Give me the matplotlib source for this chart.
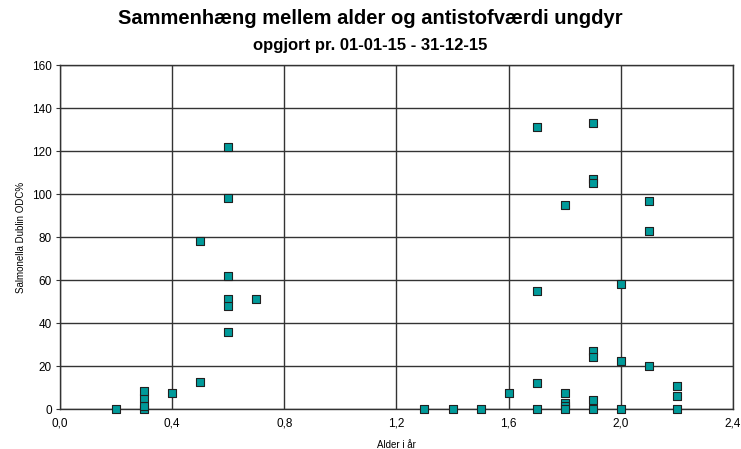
import matplotlib.pyplot as plt

plt.rcParams['font.family'] = ['Liberation Sans', 'DejaVu Sans']

# alder (år) og antistofværdi (ODC%)
alder = [0.2,
         0.3, 0.3, 0.3, 0.3,
         0.4,
         0.5, 0.5,
         0.6, 0.6, 0.6, 0.6, 0.6, 0.6,
         0.7,
         1.3, 1.4, 1.5,
         1.6,
         1.7, 1.7, 1.7, 1.7,
         1.8, 1.8, 1.8, 1.8, 1.8,
         1.9, 1.9, 1.9, 1.9, 1.9, 1.9, 1.9,
         2.0, 2.0, 2.0,
         2.1, 2.1, 2.1,
         2.2, 2.2, 2.2]
odc = [0,
       0, 1.5, 5, 8.5,
       7.5,
       78, 12.5,
       122, 98, 62, 51, 48, 36,
       51,
       0, 0, 0,
       7.5,
       131, 55, 12, 0,
       95, 7.5, 3, 1.5, 0,
       133, 107, 105, 27, 24, 4, 0,
       58, 22.5, 0,
       97, 83, 20,
       10.5, 6, 0]

xticks = [0.0, 0.4, 0.8, 1.2, 1.6, 2.0, 2.4]
xtick_labels = ['0,0', '0,4', '0,8', '1,2', '1,6', '2,0', '2,4']
yticks = [0, 20, 40, 60, 80, 100, 120, 140, 160]

fig = plt.figure(figsize=(7.41, 4.49), dpi=100)
ax = fig.add_axes([0.081, 0.089, 0.908, 0.766])

ax.scatter(alder, odc, marker='s', s=30, c='#009a9a', edgecolors='#202020',
           linewidths=0.8, zorder=3, clip_on=False)

ax.set_xlim(0, 2.4)
ax.set_ylim(0, 160)
ax.set_xticks(xticks)
ax.set_xticklabels(xtick_labels)
ax.set_yticks(yticks)
ax.grid(True, color='#333333', linewidth=1.0)
ax.set_axisbelow(True)
for s in ax.spines.values():
    s.set_color('#333333')
    s.set_linewidth(1.0)
ax.tick_params(axis='x', length=0, pad=6, labelsize=8.5)
ax.tick_params(axis='y', length=3, pad=3, labelsize=8.5, color='#333333')

ax.set_xlabel('Alder i år', fontsize=7, labelpad=8)
ax.set_ylabel('Salmonella Dublin ODC%', fontsize=7, labelpad=4)

fig.text(0.5, 0.958, 'Sammenhæng mellem alder og antistofværdi ungdyr',
         ha='center', va='center', fontsize=14.5, fontweight='bold')
fig.text(0.5, 0.898, 'opgjort pr. 01-01-15 - 31-12-15',
         ha='center', va='center', fontsize=12, fontweight='bold')

fig.savefig('out.png', dpi=100)
